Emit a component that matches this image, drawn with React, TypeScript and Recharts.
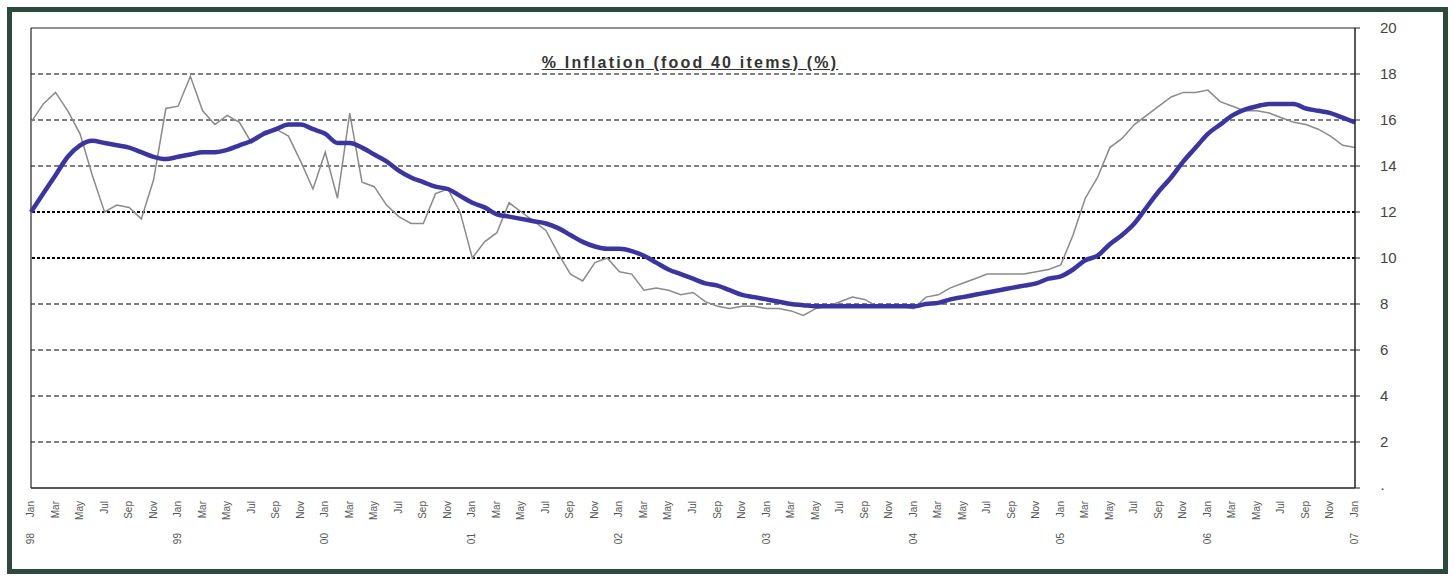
import React from 'react'
import { LineChart, Line, XAxis, YAxis, ReferenceLine } from 'recharts'

const MONTHS = ['Jan', 'Feb', 'Mar', 'Apr', 'May', 'Jun', 'Jul', 'Aug', 'Sep', 'Oct', 'Nov', 'Dec']
const YEARS = ['98', '99', '00', '01', '02', '03', '04', '05', '06', '07']

// monthly inflation, food basket (%)
const actual = [
    15.9, 16.7, 17.2, 16.4, 15.4, 13.6, 12.0, 12.3, 12.2, 11.7,
    13.4, 16.5, 16.6, 17.9, 16.4, 15.8, 16.2, 15.9, 15.0, 15.5,
    15.6, 15.3, 14.2, 13.0, 14.6, 12.6, 16.3, 13.3, 13.1, 12.3,
    11.8, 11.5, 11.5, 12.8, 13.0, 12.0, 10.0, 10.7, 11.1, 12.4,
    12.0, 11.6, 11.2, 10.2, 9.3, 9.0, 9.8, 10.0, 9.4, 9.3,
    8.6, 8.7, 8.6, 8.4, 8.5, 8.1, 7.9, 7.8, 7.9, 7.9,
    7.8, 7.8, 7.7, 7.5, 7.8, 7.9, 8.1, 8.3, 8.2, 7.9,
    7.9, 7.9, 7.8, 8.3, 8.4, 8.7, 8.9, 9.1, 9.3, 9.3,
    9.3, 9.3, 9.4, 9.5, 9.7, 11.0, 12.6, 13.5, 14.8, 15.2,
    15.8, 16.2, 16.6, 17.0, 17.2, 17.2, 17.3, 16.8, 16.6, 16.4,
    16.4, 16.3, 16.1, 15.9, 15.8, 15.6, 15.3, 14.9, 14.8,
]

// smoothed trend
const trend = [
    12.0, 12.8, 13.6, 14.4, 14.9, 15.1, 15.0, 14.9, 14.8, 14.6,
    14.4, 14.3, 14.4, 14.5, 14.6, 14.6, 14.7, 14.9, 15.1, 15.4,
    15.6, 15.8, 15.8, 15.6, 15.4, 15.0, 15.0, 14.8, 14.5, 14.2,
    13.8, 13.5, 13.3, 13.1, 13.0, 12.7, 12.4, 12.2, 11.9, 11.8,
    11.7, 11.6, 11.5, 11.3, 11.0, 10.7, 10.5, 10.4, 10.4, 10.3,
    10.1, 9.8, 9.5, 9.3, 9.1, 8.9, 8.8, 8.6, 8.4, 8.3,
    8.2, 8.1, 8.0, 7.95, 7.9, 7.9, 7.9, 7.9, 7.9, 7.9,
    7.9, 7.9, 7.9, 8.0, 8.05, 8.2, 8.3, 8.4, 8.5, 8.6,
    8.7, 8.8, 8.9, 9.1, 9.2, 9.5, 9.9, 10.1, 10.6, 11.0,
    11.5, 12.2, 12.9, 13.5, 14.2, 14.8, 15.4, 15.8, 16.2, 16.45,
    16.6, 16.7, 16.7, 16.7, 16.5, 16.4, 16.3, 16.1, 15.9,
]

const yTicks = [0, 2, 4, 6, 8, 10, 12, 14, 16, 18, 20]
const gridLines = [2, 4, 6, 8, 10, 12, 14, 16, 18]

const data = actual.map((v, i) => ({
    month: `${MONTHS[i % 12]}-${YEARS[Math.floor(i / 12)]}`,
    actual: v,
    trend: trend[i],
}))

const FONT = '"Liberation Sans", Arial, sans-serif'

function MonthTick(props: any) {
    const { x, y, payload } = props
    const [m, yr] = String(payload.value).split('-')
    return (
        <g transform={`translate(${x},${y + 5})`}>
            <text transform="rotate(-90)" textAnchor="end" dy={3} fontSize={10} fill="#555" fontFamily={FONT}>
                {m}
            </text>
            {m === 'Jan' && (
                <text transform="translate(0,32) rotate(-90)" textAnchor="end" dy={3} fontSize={10} fill="#555" fontFamily={FONT}>
                    {yr}
                </text>
            )}
        </g>
    )
}

export default function App() {
    return (
        <div style={{ position: 'absolute', left: 0, top: 0, width: 1454, height: 580, background: '#fff' }}>
            <div
                style={{
                    position: 'absolute',
                    left: 7,
                    top: 7,
                    width: 1441,
                    height: 567,
                    border: '5px solid #2c4a3b',
                    boxSizing: 'border-box',
                }}
            />
            <div
                style={{
                    position: 'absolute',
                    left: 0,
                    top: 54,
                    width: 1380,
                    textAlign: 'center',
                    fontFamily: FONT,
                    fontWeight: 'bold',
                    fontSize: 16,
                    color: '#333',
                    textDecoration: 'underline',
                    letterSpacing: 2.2,
                }}
            >
                % Inflation (food 40 items) (%)
            </div>
            <div style={{ position: 'absolute', left: 0, top: 0 }}>
                <LineChart width={1454} height={580} data={data} margin={{ top: 28, right: 49, bottom: 32, left: 31 }}>
                    {gridLines.map((v) => (
                        <ReferenceLine
                            key={v}
                            y={v}
                            stroke="#000"
                            strokeWidth={v === 10 || v === 12 ? 2 : 1}
                            strokeDasharray={v === 10 || v === 12 ? '3 2' : '5 3'}
                        />
                    ))}
                    <ReferenceLine y={20} stroke="#222" strokeWidth={1.2} />
                    <ReferenceLine x={data[0].month} stroke="#222" strokeWidth={1.2} />
                    <XAxis
                        dataKey="month"
                        interval={1}
                        height={60}
                        tickLine={false}
                        axisLine={{ stroke: '#222', strokeWidth: 1.5 }}
                        tick={<MonthTick />}
                    />
                    <YAxis
                        orientation="right"
                        width={50}
                        domain={[0, 20]}
                        ticks={yTicks}
                        interval={0}
                        axisLine={{ stroke: '#222', strokeWidth: 1.5 }}
                        tickLine={{ stroke: '#222' }}
                        tickSize={5}
                        tickMargin={20}
                        tickFormatter={(v: number) => (v === 0 ? '·' : String(v))}
                        tick={{ fill: '#444', fontSize: 15, fontFamily: FONT }}
                    />
                    <Line
                        type="linear"
                        dataKey="actual"
                        stroke="#8a8a8a"
                        strokeWidth={1.5}
                        dot={false}
                        isAnimationActive={false}
                    />
                    <Line
                        type="monotone"
                        dataKey="trend"
                        stroke="#3b35a0"
                        strokeWidth={4.5}
                        dot={false}
                        isAnimationActive={false}
                    />
                </LineChart>
            </div>
        </div>
    )
}
